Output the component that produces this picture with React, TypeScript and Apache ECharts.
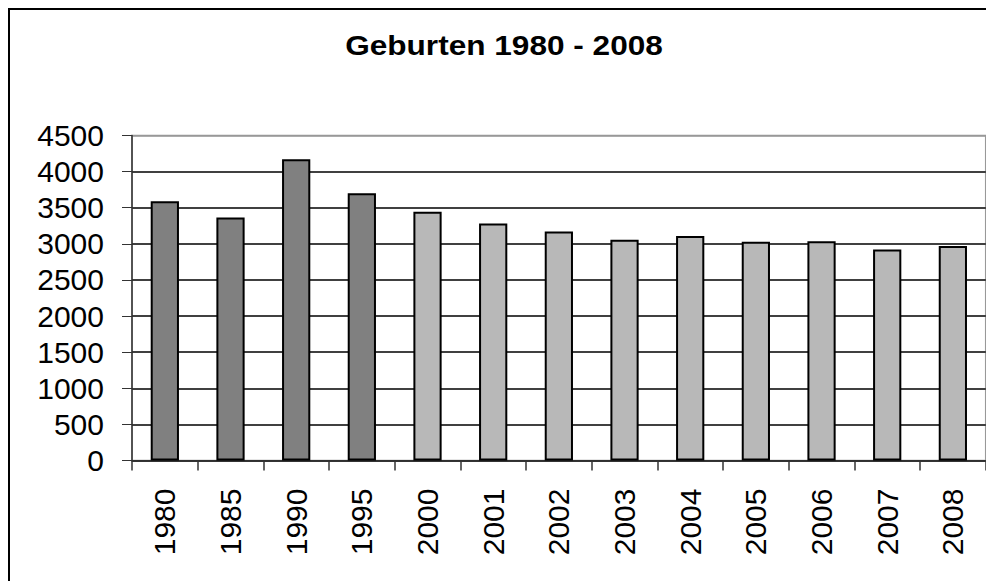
import React, { useEffect, useRef } from "react";
import * as echarts from "echarts";

const categories = ["1980", "1985", "1990", "1995", "2000", "2001", "2002", "2003", "2004", "2005", "2006", "2007", "2008"];
const births = [3590, 3365, 4170, 3700, 3445, 3280, 3170, 3055, 3110, 3030, 3035, 2920, 2970];
const darkYears = ["1980", "1985", "1990", "1995"];
const titleText = "Geburten 1980 - 2008";
const yMin = 0;
const yMax = 4500;
const yStep = 500;

export default function App() {
  const ref = useRef<HTMLDivElement>(null);
  useEffect(() => {
    if (!ref.current) return;
    const chart = echarts.init(ref.current, null, { renderer: "svg" });
    const font = "'Liberation Sans', Arial, sans-serif";
    const gridColors = Array.from({ length: (yMax - yMin) / yStep + 1 }, (_, i) =>
      i === (yMax - yMin) / yStep ? "#999999" : "#000000"
    );
    chart.setOption({
      animation: false,
      backgroundColor: "#ffffff",
      grid: {
        left: 124,
        right: 8.3,
        top: 127.5,
        bottom: 120.5,
        show: true,
        borderColor: "#999999",
        borderWidth: 1.5,
        backgroundColor: "transparent",
      },
      xAxis: {
        type: "category",
        data: categories,
        axisLine: { lineStyle: { color: "#333", width: 1.5 } },
        axisTick: { show: true, length: 10, lineStyle: { color: "#333", width: 1.5 } },
        axisLabel: { rotate: 90, margin: 28, fontFamily: font, fontSize: 30, color: "#000" },
      },
      yAxis: {
        type: "value",
        min: yMin,
        max: yMax,
        interval: yStep,
        axisLine: { show: true, lineStyle: { color: "#333", width: 1.5 } },
        axisTick: { show: true, length: 10, lineStyle: { color: "#333", width: 1 } },
        axisLabel: {
          margin: 28,
          fontFamily: font,
          fontSize: 30,
          color: "#000",
          formatter: (v: number) => String(v),
        },
        splitLine: { show: true, lineStyle: { color: gridColors, width: 1.5 } },
      },
      series: [
        {
          type: "bar",
          barCategoryGap: "57%",
          data: births.map((v, i) => ({
            value: v,
            itemStyle: {
              color: darkYears.includes(categories[i]) ? "#808080" : "#b8b8b8",
              borderColor: "#000",
              borderWidth: 2,
            },
          })),
        },
      ],
      graphic: [
        {
          type: "text",
          x: 496,
          y: 37,
          scaleX: 1.17,
          style: {
            text: titleText,
            fontFamily: font,
            fontSize: 27,
            fontWeight: "bold",
            fill: "#000",
            align: "center",
            verticalAlign: "middle",
          },
        },
        { type: "line", shape: { x1: 0, y1: 0, x2: 0, y2: 573 }, style: { stroke: "#000", lineWidth: 4 } },
        { type: "line", shape: { x1: 0, y1: 0, x2: 986, y2: 0 }, style: { stroke: "#000", lineWidth: 4 } },
      ],
    });
    return () => chart.dispose();
  }, []);
  return <div ref={ref} style={{ width: 986, height: 573 }} />;
}
